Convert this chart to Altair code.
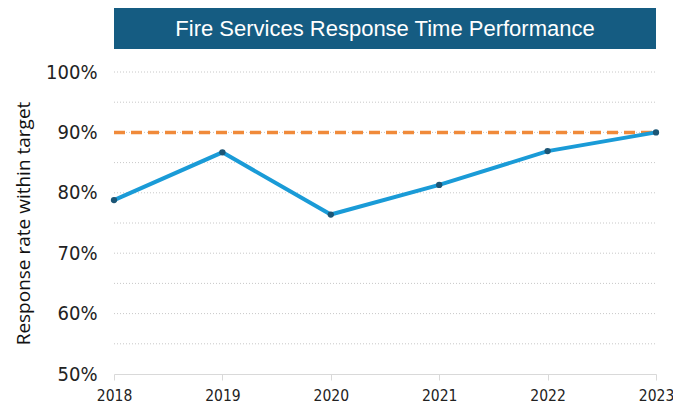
import altair as alt
import pandas as pd

years = [2018, 2019, 2020, 2021, 2022, 2023]
rates = [0.788, 0.867, 0.764, 0.813, 0.869, 0.900]
target = [0.90] * 6
title_text = ["Fire Services Response Time Performance"]

df = pd.DataFrame({"year": years, "rate": rates, "target": target})

W, H = 542, 302
FONT = "Liberation Sans Narrow, DejaVu Sans Condensed, Liberation Sans, sans-serif"
YS = alt.Scale(domain=[0.5, 1.0], nice=False)

XAX = alt.Axis(title=None, values=years, format="d", labelFontSize=15.5,
               labelFont=FONT, labelColor="#222", domainColor="#d9d9d9",
               tickColor="#d9d9d9", tickSize=6, labelPadding=8, grid=False,
               labelFlush=False)
YAX = alt.Axis(title="Response rate within target", format=".0%",
               values=[0.5, 0.6, 0.7, 0.8, 0.9, 1.0],
               labelFontSize=20, labelFont=FONT, labelColor="#222",
               titleFontSize=19, titleFont="Open Sans, sans-serif",
               titleFontWeight="normal", titleColor="#111", titlePadding=12,
               domain=False, ticks=False, labelPadding=17, grid=False)

x = alt.X("year:Q", scale=alt.Scale(domain=[2018, 2023], nice=False), axis=XAX)
y = alt.Y("rate:Q", scale=YS, axis=YAX)

base = alt.Chart(df)

grid_df = pd.DataFrame({"g": [0.55, 0.6, 0.65, 0.7, 0.75, 0.8, 0.85, 0.9, 0.95, 1.0]})
grid = alt.Chart(grid_df).mark_rule(color="#c8c8c8", strokeDash=[1, 2], strokeWidth=1).encode(
    y=alt.Y("g:Q", scale=YS, axis=YAX),
    x=alt.value(0), x2=alt.value(W))

target_line = base.mark_line(color="#f08a3a", strokeWidth=3.5, strokeDash=[11, 6]).encode(
    x=x, y=alt.Y("target:Q", scale=YS, axis=YAX))

line = base.mark_line(color="#1a9bd7", strokeWidth=4).encode(x=x, y=y)
points = base.mark_circle(color="#1c5676", opacity=1, size=40).encode(x=x, y=y)

tdf = pd.DataFrame({"t": title_text})
box = alt.Chart(tdf).mark_rect(color="#155c82").encode(
    x=alt.value(0), x2=alt.value(W), y=alt.value(-64), y2=alt.value(-23))
ttext = alt.Chart(tdf).mark_text(color="white", fontSize=22, font="Liberation Sans, Arial, sans-serif",
                                 align="center", baseline="middle").encode(
    x=alt.value(W / 2), y=alt.value(-43), text="t:N")

chart = alt.layer(grid, box, ttext, target_line, line, points).properties(
    width=W, height=H,
    background="white",
    autosize=alt.AutoSizeParams(type="none"),
    padding={"left": 106, "top": 64, "right": 17, "bottom": 40},
).configure_view(stroke=None, strokeWidth=0)

chart.save("out.html", embed_options={"renderer": "svg", "actions": False})
